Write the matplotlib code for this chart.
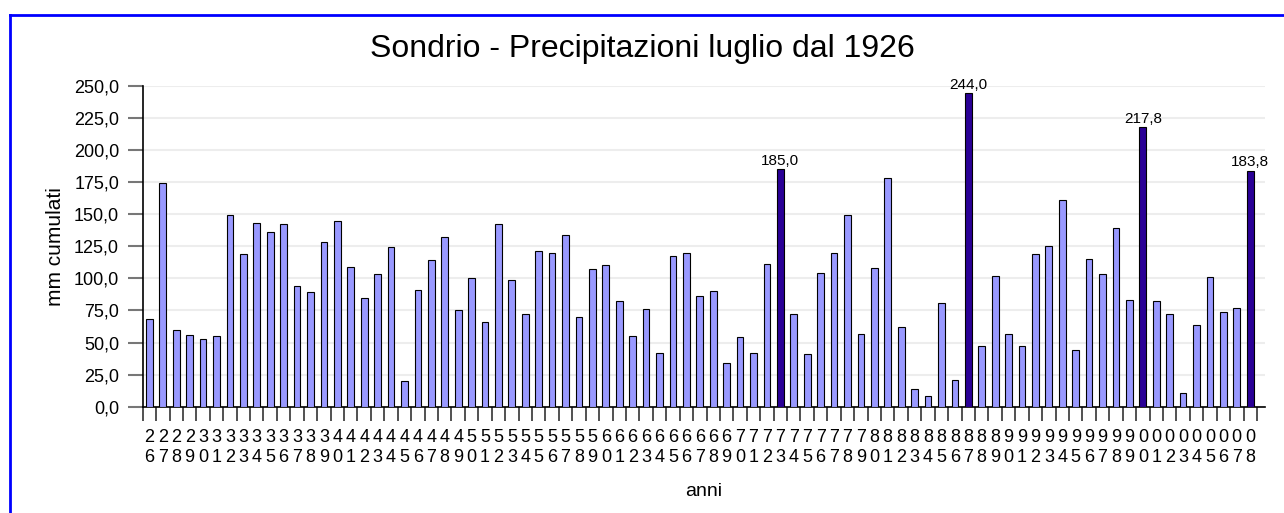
import numpy as np
import matplotlib
matplotlib.use("Agg")
import matplotlib.pyplot as plt
from matplotlib.lines import Line2D

plt.rcParams['font.family'] = ['Liberation Sans', 'DejaVu Sans']

# July rainfall at Sondrio (mm), 1926-2008
years = list(range(1926, 2009))
rain = [68, 174, 60, 56, 53, 55, 149, 119, 143, 136,
        142, 94, 89, 128, 145, 109, 85, 103, 124, 20,
        91, 114, 132, 75, 100, 66, 142, 99, 72, 121,
        120, 134, 70, 107, 110, 82, 55, 76, 42, 117,
        120, 86, 90, 34, 54, 42, 111, 185.0, 72, 41,
        104, 120, 149, 57, 108, 178, 62, 14, 8, 81,
        21, 244.0, 47, 102, 57, 47, 119, 125, 161, 44,
        115, 103, 139, 83, 217.8, 82, 72, 11, 64, 101,
        74, 77, 183.8]
highlight_years = [1973, 1987, 2000, 2008]

title = "Sondrio - Precipitazioni luglio dal 1926"
y_ticks = list(range(0, 251, 25))

light = "#9999FF"
dark = "#2A0096"


def fmt_it(v):
    return f"{v:.1f}".replace(".", ",")


fig = plt.figure(figsize=(12.84, 5.13), dpi=100)
ax = fig.add_axes([0.1111, 0.2072, 0.8741, 0.6257])

x = np.arange(len(years))
colors = [dark if y in highlight_years else light for y in years]
ax.bar(x, rain, width=0.5, color=colors, edgecolor="black", linewidth=0.8, zorder=3)

# labels on the highlighted bars
for i, y in enumerate(years):
    if y in highlight_years:
        ax.text(x[i], rain[i] + 1.2, fmt_it(rain[i]), ha="center", va="bottom",
                fontsize=11, zorder=4)

ax.set_xlim(-0.5, 83.1)
ax.set_ylim(0, 250)

# y axis
ax.set_yticks(y_ticks)
ax.set_yticklabels([fmt_it(v) for v in y_ticks], fontsize=13)
ax.tick_params(axis="y", length=11, width=1.5, color="#777777", pad=6)
ax.grid(axis="y", color="#EDEDED", linewidth=1.5, zorder=0)

# x axis: labels at bar centres, ticks on category boundaries
ax.set_xticks(x)
ax.set_xticklabels([f"{y % 100:02d}"[0] + "\n" + f"{y % 100:02d}"[1] for y in years],
                   fontsize=13, linespacing=1.25)
ax.tick_params(axis="x", which="major", length=0, pad=16)
ax.set_xticks(np.arange(-0.5, 83, 1.0), minor=True)
ax.tick_params(axis="x", which="minor", length=10, width=1.2, color="#333333")

for side in ["top", "right"]:
    ax.spines[side].set_visible(False)
ax.spines["left"].set_linewidth(1.2)
ax.spines["bottom"].set_linewidth(1.2)

ax.set_xlabel("anni", fontsize=14, labelpad=12)
ax.set_ylabel("mm cumulati", fontsize=15, labelpad=6)
fig.text(0.5, 0.905, title, ha="center", va="center", fontsize=23)

# blue frame (left and top edges visible)
fig.add_artist(Line2D([10 / 1284, 10 / 1284], [0, 1 - 15 / 513],
                      transform=fig.transFigure, color="#0000FF", linewidth=2))
fig.add_artist(Line2D([10 / 1284, 1], [1 - 15 / 513, 1 - 15 / 513],
                      transform=fig.transFigure, color="#0000FF", linewidth=2))

fig.savefig("out.png", dpi=100)
